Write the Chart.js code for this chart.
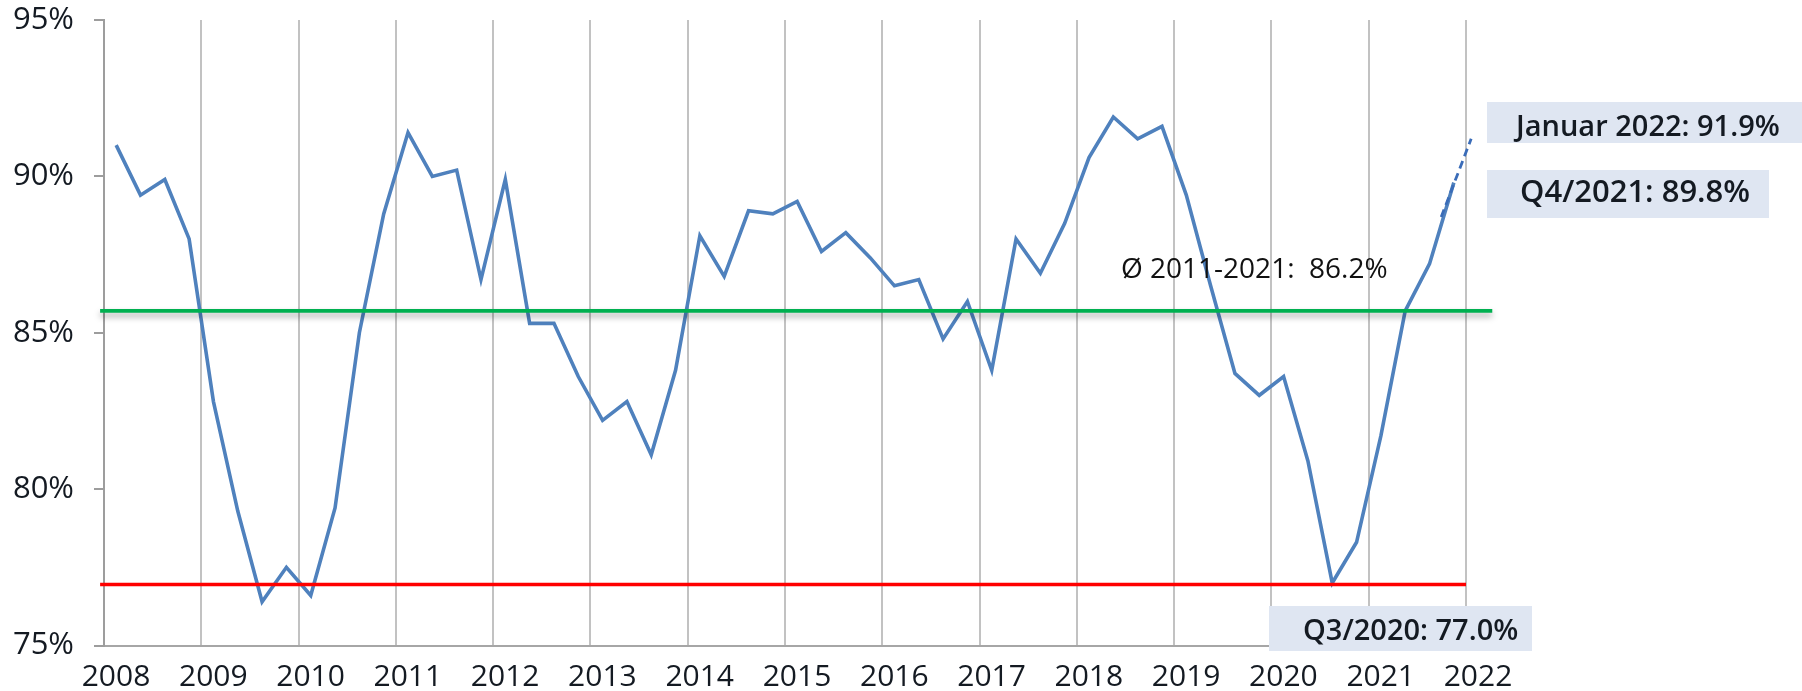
<!DOCTYPE html>
<html>
<head>
<meta charset="utf-8">
<script src="https://cdn.jsdelivr.net/npm/chart.js@4.4.0/dist/chart.umd.min.js"></script>
<style>
  html, body { margin: 0; padding: 0; background: #fff; }
  #wrap { width: 1802px; height: 691px; position: relative; }
</style>
</head>
<body>
<div id="wrap"><canvas id="utilChart"></canvas></div>
<script>
// Year axis and y ticks
const years = [2008, 2009, 2010, 2011, 2012, 2013, 2014, 2015, 2016, 2017, 2018, 2019, 2020, 2021];
const yearTicks = [2008, 2009, 2010, 2011, 2012, 2013, 2014, 2015, 2016, 2017, 2018, 2019, 2020, 2021, 2022];
const percentTicks = [75, 80, 85, 90, 95];

// Quarterly values Q1..Q4 per year
const utilisation = [
  91.0, 89.4, 89.9, 88.0,
  82.8, 79.3, 76.4, 77.5,
  76.6, 79.4, 85.0, 88.8,
  91.4, 90.0, 90.2, 86.7,
  89.9, 85.3, 85.3, 83.6,
  82.2, 82.8, 81.1, 83.8,
  88.1, 86.8, 88.9, 88.8,
  89.2, 87.6, 88.2, 87.4,
  86.5, 86.7, 84.8, 86.0,
  83.8, 88.0, 86.9, 88.5,
  90.6, 91.9, 91.2, 91.6,
  89.4, 86.5, 83.7, 83.0,
  83.6, 80.9, 77.0, 78.3,
  81.7, 85.7, 87.2, 89.8
];

// dashed extension towards January 2022
const trendX = [2021.745, 2022.053];
const trendValues = [88.7, 91.2];

// reference lines
const avgLevel = 85.7;
const avgSpan = [2007.96, 2022.27];
const minLevel = 76.95;
const minSpan = [2007.96, 2022];

const avgLabel = 'Ø 2011-2021:  86.2%';
const boxLabels = ['Januar 2022: 91.9%', 'Q4/2021: 89.8%', 'Q3/2020: 77.0%'];

const textColor = '#141a22';

// quarter i sits in the middle of its quarter on the year axis
const quarterPoints = utilisation.map((v, i) => ({
  x: years[Math.floor(i / 4)] + ((i % 4) + 0.5) / 4,
  y: v
}));

const shadowPlugin = {
  id: 'lineShadow',
  beforeDatasetDraw(chart, args) {
    if (!chart.data.datasets[args.index].shadow) return;
    const ctx = chart.ctx;
    ctx.save();
    ctx.shadowColor = 'rgba(0,0,0,0.35)';
    ctx.shadowBlur = 6;
    ctx.shadowOffsetY = 4;
  },
  afterDatasetDraw(chart, args) {
    if (!chart.data.datasets[args.index].shadow) return;
    chart.ctx.restore();
  }
};

const labelPlugin = {
  id: 'labels',
  afterDraw(chart) {
    const ctx = chart.ctx;
    ctx.save();
    ctx.textAlign = 'left';
    ctx.textBaseline = 'alphabetic';

    // average label
    ctx.fillStyle = '#111';
    ctx.font = '28px "Open Sans"';
    ctx.fillText(avgLabel, 1121, 278);

    // boxed labels
    const boxes = [
      { x: 1487, y: 102, w: 315, h: 41, tx: 1516, ty: 136, size: 29 },
      { x: 1487, y: 170, w: 282, h: 48, tx: 1520, ty: 202, size: 31 },
      { x: 1269, y: 606, w: 263, h: 45, tx: 1303, ty: 640, size: 29 }
    ];
    boxes.forEach((b, i) => {
      ctx.fillStyle = '#dfe6f2';
      ctx.fillRect(b.x, b.y, b.w, b.h);
      ctx.fillStyle = textColor;
      ctx.font = '600 ' + b.size + 'px "Open Sans"';
      ctx.fillText(boxLabels[i], b.tx, b.ty);
    });
    ctx.restore();
  }
};

new Chart(document.getElementById('utilChart'), {
  type: 'line',
  data: {
    datasets: [
      {
        label: 'Auslastung',
        data: quarterPoints,
        borderColor: '#4f81bd',
        borderWidth: 3.6,
        pointRadius: 0,
        tension: 0,
        order: 3
      },
      {
        label: 'Januar 2022',
        data: trendX.map((x, i) => ({ x: x, y: trendValues[i] })),
        borderColor: '#3a6cb8',
        borderWidth: 2.8,
        borderDash: [8, 5],
        pointRadius: 0,
        order: 2,
        clip: false
      },
      {
        label: 'Durchschnitt',
        data: avgSpan.map(x => ({ x: x, y: avgLevel })),
        borderColor: '#00b050',
        borderWidth: 3.8,
        pointRadius: 0,
        order: 1,
        clip: false,
        shadow: true
      },
      {
        label: 'Minimum',
        data: minSpan.map(x => ({ x: x, y: minLevel })),
        borderColor: '#ff0000',
        borderWidth: 3.4,
        pointRadius: 0,
        order: 1,
        clip: false
      }
    ]
  },
  options: {
    responsive: true,
    maintainAspectRatio: false,
    animation: false,
    layout: { padding: { top: 20, right: 336, left: 0, bottom: 0 } },
    plugins: {
      legend: { display: false },
      tooltip: { enabled: false }
    },
    scales: {
      x: {
        type: 'linear',
        min: yearTicks[0],
        max: yearTicks[yearTicks.length - 1],
        afterBuildTicks: scale => { scale.ticks = yearTicks.map(v => ({ value: v })); },
        afterFit: scale => { scale.height = 45.5; },
        grid: {
          color: c => (c.index === 0 ? 'rgba(0,0,0,0)' : '#c2c2c2'),
          lineWidth: 2,
          drawTicks: false
        },
        border: { color: '#a6a6a6', width: 2 },
        ticks: {
          color: textColor,
          font: { family: '"Open Sans"', size: 30 },
          padding: 14,
          labelOffset: 12,
          maxRotation: 0,
          autoSkip: false,
          callback: v => String(v)
        }
      },
      y: {
        min: percentTicks[0],
        max: percentTicks[percentTicks.length - 1],
        afterBuildTicks: scale => { scale.ticks = percentTicks.map(v => ({ value: v })); },
        afterFit: scale => {
          scale.width = 104;
          scale.paddingTop = 0;
          scale.paddingBottom = 0;
        },
        grid: {
          drawOnChartArea: false,
          drawTicks: true,
          tickLength: 10,
          color: '#9d9d9d',
          lineWidth: 2
        },
        border: { color: '#9d9d9d', width: 2 },
        ticks: {
          color: textColor,
          font: { family: '"Open Sans"', size: 31 },
          padding: 20,
          callback: v => v + '%'
        }
      }
    }
  },
  plugins: [shadowPlugin, labelPlugin]
});
</script>
</body>
</html>
